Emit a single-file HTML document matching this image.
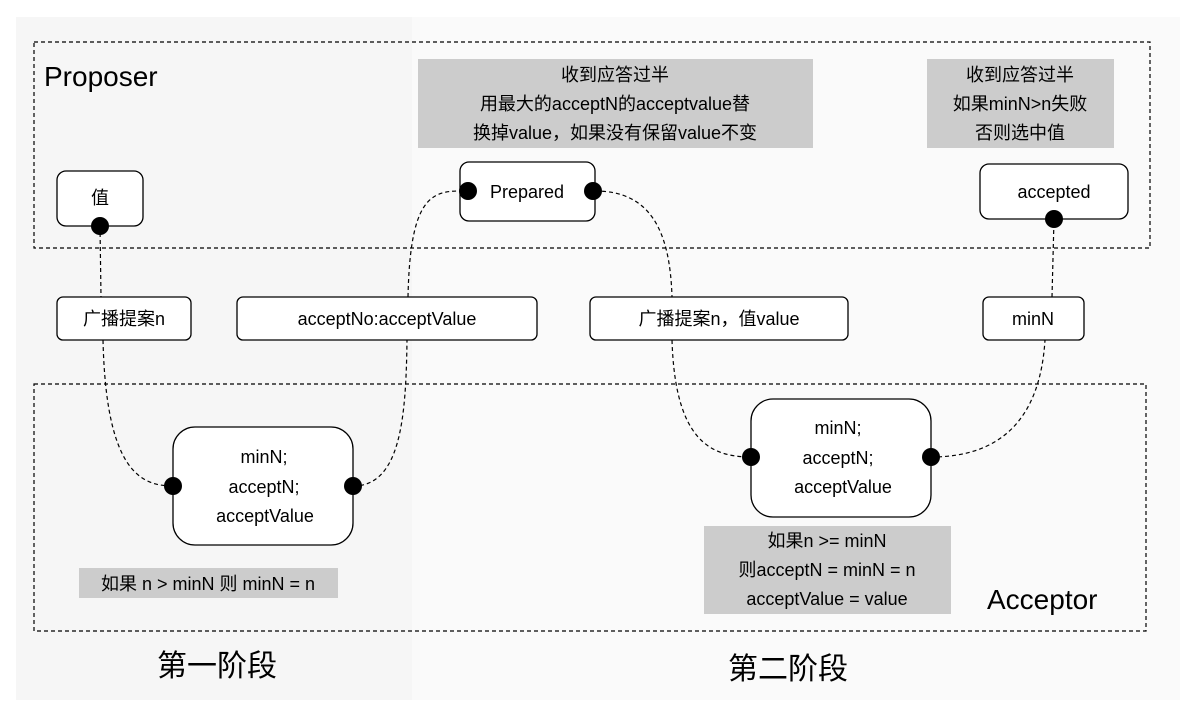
<!DOCTYPE html>
<html><head><meta charset="utf-8"><style>
body{margin:0;background:#fff}
svg{display:block}
text{font-family:"Liberation Sans","Noto Sans CJK SC",sans-serif;fill:#000}
</style></head><body>
<svg width="1195" height="720" viewBox="0 0 1195 720" xmlns="http://www.w3.org/2000/svg">
<rect x="0" y="0" width="1195" height="720" fill="#fff"/>
<rect x="16" y="17" width="396" height="683" fill="#f6f6f6"/>
<rect x="412" y="17" width="768" height="683" fill="#fafafa"/>
<g fill="none" stroke="#000" stroke-width="1.2" stroke-dasharray="4,3">
<rect x="34" y="42" width="1116" height="206"/>
<rect x="34" y="384" width="1112" height="247"/>
</g>
<text x="44" y="86" font-size="28">Proposer</text>
<text x="987" y="609" font-size="28">Acceptor</text>
<!-- gray notes -->
<rect x="418" y="59" width="395" height="89" fill="#cccccc"/>
<text font-size="18" text-anchor="middle"><tspan x="615" y="81">收到应答过半</tspan><tspan x="615" y="110">用最大的acceptN的acceptvalue替</tspan><tspan x="615" y="139">换掉value，如果没有保留value不变</tspan></text>
<rect x="927" y="59" width="187" height="89" fill="#cccccc"/>
<text font-size="18" text-anchor="middle"><tspan x="1020" y="81">收到应答过半</tspan><tspan x="1020" y="110">如果minN&gt;n失败</tspan><tspan x="1020" y="139">否则选中值</tspan></text>
<rect x="79" y="568" width="259" height="30" fill="#cccccc"/>
<text x="208" y="590" font-size="18" text-anchor="middle">如果 n &gt; minN 则 minN = n</text>
<rect x="704" y="526" width="247" height="88" fill="#cccccc"/>
<text font-size="18" text-anchor="middle"><tspan x="827" y="547">如果n &gt;= minN</tspan><tspan x="827" y="576">则acceptN = minN = n</tspan><tspan x="827" y="605">acceptValue = value</tspan></text>
<!-- connectors -->
<g fill="none" stroke="#000" stroke-width="1.2" stroke-dasharray="4,3">
<path d="M100,226 L101,297"/>
<path d="M103,340 C106,470 140,486 173,486"/>
<path d="M353,486 C400,486 406,420 407,340"/>
<path d="M408,297 C410,200 430,191 460,191"/>
<path d="M595,191 C650,191 670,230 672,297"/>
<path d="M672,340 C675,440 710,457 751,457"/>
<path d="M931,457 C1000,457 1040,420 1045,340"/>
<path d="M1052,297 L1054,219"/>
</g>
<!-- nodes -->
<g fill="#fff" stroke="#000" stroke-width="1.3">
<rect x="57" y="171" width="86" height="55" rx="9"/>
<rect x="460" y="162" width="135" height="59" rx="9"/>
<rect x="980" y="164" width="148" height="55" rx="9"/>
<rect x="57" y="297" width="134" height="43" rx="6"/>
<rect x="237" y="297" width="300" height="43" rx="6"/>
<rect x="590" y="297" width="258" height="43" rx="6"/>
<rect x="983" y="297" width="101" height="43" rx="6"/>
<rect x="173" y="427" width="180" height="118" rx="22"/>
<rect x="751" y="399" width="180" height="118" rx="22"/>
</g>
<g font-size="18" text-anchor="middle">
<text x="100" y="204">值</text>
<text x="527" y="198">Prepared</text>
<text x="1054" y="198">accepted</text>
<text x="124" y="325">广播提案n</text>
<text x="387" y="325">acceptNo:acceptValue</text>
<text x="719" y="325">广播提案n，值value</text>
<text x="1033" y="325">minN</text>
<text x="264" y="463">minN;</text><text x="264" y="493">acceptN;</text><text x="265" y="522">acceptValue</text>
<text x="838" y="434">minN;</text><text x="838" y="464">acceptN;</text><text x="843" y="493">acceptValue</text>
</g>
<g fill="#000">
<circle cx="100" cy="226" r="9"/>
<circle cx="468" cy="191" r="9"/><circle cx="593" cy="191" r="9"/>
<circle cx="1054" cy="219" r="9"/>
<circle cx="173" cy="486" r="9"/><circle cx="353" cy="486" r="9"/>
<circle cx="751" cy="457" r="9"/><circle cx="931" cy="457" r="9"/>
</g>
<text x="217" y="676" font-size="30" text-anchor="middle">第一阶段</text>
<text x="788" y="679" font-size="30" text-anchor="middle">第二阶段</text>
</svg>
</body></html>
